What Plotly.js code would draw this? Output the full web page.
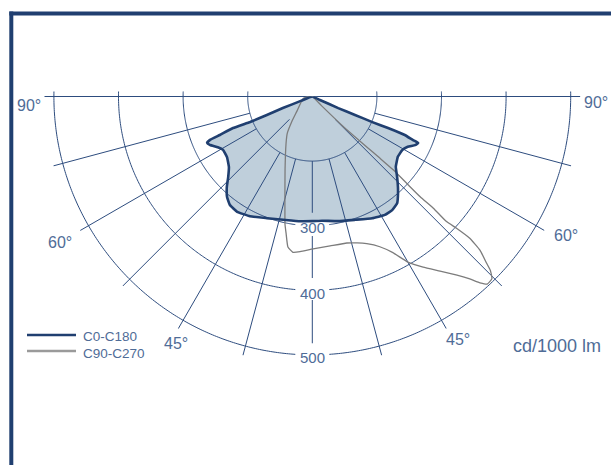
<!DOCTYPE html>
<html>
<head>
<meta charset="utf-8">
<script src="https://cdn.plot.ly/plotly-3.0.1.min.js"></script>
<style>
html,body{margin:0;padding:0;background:#fff;}
#chart{width:611px;height:465px;}
</style>
</head>
<body>
<div id="chart"></div>
<script>
// ---- data (cd/1000 lm, angle in degrees; negative = C180 / C270 side) ----
const c0Theta = [-90, -69, -68.6, -67.8, -67.7, -68.3, -67.4, -67.0, -66.2, -64.6, -61.8, -59.1, -54.6, -49.8, -46.3, -43.3, -40.3, -37.2, -33.1, -27.5, -20.4, -13.3, -5.6, 0,
                 4.5, 11.7, 19.1, 26.2, 31.5, 35.1, 38.5, 40.5, 43.4, 46.5, 49.9, 54.8, 59.2, 62.2, 64.7, 66.3, 66.6, 67.4, 67.4, 66.9, 66.6, 65.9, 65.6, 90];
const c0R     = [100, 118, 149, 176, 204, 232, 255, 272, 278, 275, 266, 261, 262, 269, 280, 293, 304, 311, 313, 309, 301, 296, 294, 293,
                 293, 297, 302, 310, 315, 315, 311, 304, 293, 281, 269, 262, 262, 267, 276, 279, 270, 255, 227, 200, 172, 144, 113, 100];

const c90Theta = [-90, -79, -45.7, -39.3, -34.2, -29.3, -20.4, -14.8, -12, -10.9, -9.2, -7.1, -4.5, 0.3, 6.8, 13.3, 17, 20.3, 24.2, 27.3, 30, 33, 36.2, 39, 40.8, 42, 43, 44.6,
                  45.7, 46.3, 47.5, 48, 47.6, 47, 47.3, 47.1, 47.4, 47.8, 47.6, 46, 45, 90];
const c90R     = [100, 114, 134, 150, 169, 183, 221, 266, 303, 315, 336, 343, 341, 336, 333, 333, 337, 343, 355, 372, 396, 415, 435, 456, 473, 488, 497, 496,
                  485, 473, 452, 428, 403, 384, 355, 328, 298, 269, 242, 170, 120, 100];

const seriesNames = ['C0-C180', 'C90-C270'];
const ringValues = [200, 300, 400, 500];
const ringLabels = ['300', '400', '500'];
const spokeAngles = [-90, -75, -60, -45, -30, -15, 0, 15, 30, 45, 60, 75, 90];
const angleLabels = ['90°', '90°', '60°', '60°', '45°', '45°'];
const unitLabel = 'cd/1000 lm';

// ---- styling / geometry ----
const W = 611, H = 465;
const CX = 312.3, CY = 96.5;         // pixel centre of the polar plot
const PXU = 0.646;                    // pixels per cd/klm
const RMIN = 100, RMAX = 515;
const NAVY = '#203f70', GRID = '#2d4c7e', TXT = '#4f6c97', GRAYC = '#7c7c7c';
const px = x => x / W, py = y => 1 - y / H;
const rOuterPx = (RMAX - RMIN) * PXU;

// grid: rings (gap round the radial labels on the 0° spoke, small ticks above the 90° line)
const gridTheta = [], gridR = [];
ringValues.forEach(v => {
  const R = (v - RMIN) * PXU;
  const ext = Math.asin(5 / R) * 180 / Math.PI;
  const gap = ringLabels.includes(String(v)) ? Math.asin(17 / R) * 180 / Math.PI : 0;
  const segs = gap ? [[-90 - ext, -gap], [gap, 90 + ext]] : [[-90 - ext, 90 + ext]];
  segs.forEach(([a, b]) => {
    const n = Math.max(2, Math.ceil((b - a) / 0.5));
    for (let i = 0; i <= n; i++) { gridTheta.push(a + (b - a) * i / n); gridR.push(v); }
    gridTheta.push(null); gridR.push(null);
  });
});
// spokes
spokeAngles.forEach(a => {
  let start = 200;
  if (Math.abs(a) === 90) start = RMIN;
  else if (Math.abs(a) === 45) start = 150;
  let segs = [[start, RMAX]];
  if (a === 0) segs = [[200, 280], [316, 381], [415, 482]];
  segs.forEach(([r0, r1]) => {
    gridTheta.push(a, a, null); gridR.push(r0, r1, null);
  });
});

const traces = [
  { type: 'scatterpolar', theta: c0Theta, r: c0R, mode: 'lines', fill: 'toself',
    fillcolor: '#bfcfdb', line: { width: 0, color: NAVY, shape: 'spline', smoothing: 0.3 },
    hoverinfo: 'skip', showlegend: false },
  { type: 'scatterpolar', theta: gridTheta, r: gridR, mode: 'lines', connectgaps: false,
    line: { width: 1, color: GRID }, hoverinfo: 'skip', showlegend: false },
  { type: 'scatterpolar', theta: c90Theta, r: c90R, mode: 'lines', name: seriesNames[1],
    line: { width: 1.3, color: GRAYC, shape: 'spline', smoothing: 0.4 }, showlegend: false },
  { type: 'scatterpolar', theta: c0Theta, r: c0R, mode: 'lines', name: seriesNames[0],
    line: { width: 2.6, color: NAVY, shape: 'spline', smoothing: 0.3 }, showlegend: false }
];

const font = (s, c) => ({ family: 'Liberation Sans, Arial, sans-serif', size: s, color: c || TXT });
const ann = (text, x, y, size, xanchor) => ({ text, x: px(x), y: py(y), xref: 'paper', yref: 'paper',
  xanchor: xanchor || 'center', yanchor: 'middle', showarrow: false, font: font(size) });

const annotations = [
  ann(angleLabels[0], 29, 105, 16), ann(angleLabels[1], 595.5, 103, 16),
  ann(angleLabels[2], 60, 242.5, 16), ann(angleLabels[3], 565.5, 235.5, 16),
  ann(angleLabels[4], 175.5, 343, 16), ann(angleLabels[5], 457.5, 339, 16),
  ann(ringLabels[0], CX, 228, 15), ann(ringLabels[1], CX, 293, 15), ann(ringLabels[2], CX, 357.5, 15),
  ann(unitLabel, 556.5, 346, 18),
  ann(seriesNames[0], 81, 336, 13.5, 'left'), ann(seriesNames[1], 81, 353, 13.5, 'left')
];

const shapes = [
  { type: 'line', xref: 'paper', yref: 'paper', x0: px(11.3), x1: px(11.3), y0: 0, y1: py(11.5), line: { color: NAVY, width: 4 } },
  { type: 'line', xref: 'paper', yref: 'paper', x0: px(9.3), x1: 1, y0: py(13.5), y1: py(13.5), line: { color: NAVY, width: 4 } },
  { type: 'line', xref: 'paper', yref: 'paper', x0: px(27), x1: px(76), y0: py(335), y1: py(335), line: { color: NAVY, width: 2.6 } },
  { type: 'line', xref: 'paper', yref: 'paper', x0: px(27), x1: px(76), y0: py(351), y1: py(351), line: { color: '#9a9a9a', width: 2.6 } }
];

const topExt = rOuterPx * Math.sin(5 * Math.PI / 180);
const layout = {
  width: W, height: H, margin: { l: 0, r: 0, t: 0, b: 0 },
  paper_bgcolor: '#fff', showlegend: false,
  polar: {
    domain: { x: [px(CX - rOuterPx), px(CX + rOuterPx)], y: [py(CY + rOuterPx), py(CY - topExt)] },
    sector: [175, 365], bgcolor: 'rgba(0,0,0,0)',
    radialaxis: { range: [RMIN, RMAX], visible: false },
    angularaxis: { rotation: -90, direction: 'counterclockwise', visible: false }
  },
  annotations, shapes
};

Plotly.newPlot('chart', traces, layout, { staticPlot: true, displayModeBar: false });
</script>
</body>
</html>
